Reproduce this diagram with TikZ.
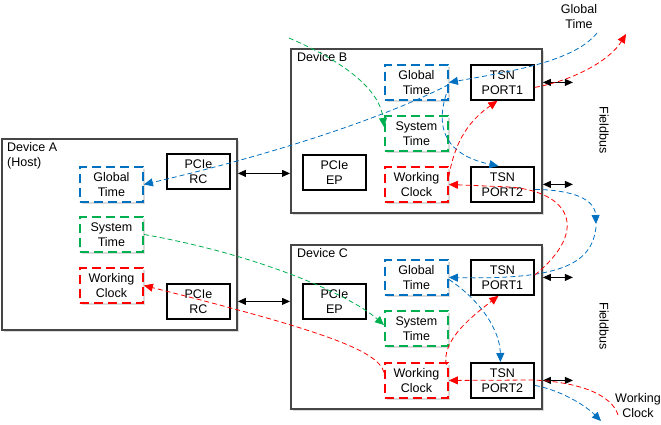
\documentclass[tikz,border=0pt]{standalone}
\usepackage{fontspec}
\setmainfont{Liberation Sans}
\usetikzlibrary{arrows.meta,shadows}

\definecolor{gtblue}{RGB}{0,112,192}
\definecolor{stgreen}{RGB}{0,176,80}
\definecolor{wcred}{RGB}{255,0,0}
\definecolor{devgray}{RGB}{70,70,70}

\tikzset{
  shade/.style={drop shadow={shadow xshift=2pt, shadow yshift=-2pt, fill=black!14, opacity=1}},
  device/.style={draw=devgray, line width=1.9pt, fill=white, shade, anchor=north west, inner sep=0pt},
  blk/.style={draw=black, line width=1.8pt, fill=white, anchor=north west, minimum width=63pt, minimum height=35pt, inner sep=0pt, align=center},
  clk/.style={blk, draw=#1, line width=1.9pt, dash pattern=on 9pt off 5pt, shade},
  link/.style={draw=#1, line width=0.8pt, dash pattern=on 5pt off 3pt, -{Triangle[length=9pt,width=8pt]}},
  bus/.style={draw=black, line width=0.9pt, {Triangle[length=8pt,width=7pt]}-{Triangle[length=8pt,width=7pt]}},
  lbl/.style={anchor=north west, inner sep=1pt, align=left}
}

\begin{document}
\begin{tikzpicture}[x=1pt, y=-1pt, font=\fontsize{12.5}{15}\selectfont]
\pgfmathsetmacro{\l}{30}

\useasboundingbox (0,0) rectangle (661,424);

\node[device, minimum width=235, minimum height=191] (devA) at (1,138) {};
\node[device, minimum width=251, minimum height=164] (devB) at (290,48) {};
\node[device, minimum width=251, minimum height=164] (devC) at (290,244) {};
\node[lbl] (labA) at (6,141) {Device A\\(Host)};
\node[lbl] (labB) at (296,51) {Device B};
\node[lbl] (labC) at (296,247) {Device C};

\node[clk=gtblue] (gtA) at (79,166) {Global\\Time};
\node[clk=stgreen] (stA) at (79,216) {System\\Time};
\node[clk=wcred] (wcA) at (79,267) {Working\\Clock};
\node[blk] (rcA1) at (166,153) {PCIe\\RC};
\node[blk] (rcA2) at (166,283) {PCIe\\RC};

\node[clk=gtblue] (gtB) at (384,64) {Global\\Time};
\node[clk=stgreen] (stB) at (384,115) {System\\Time};
\node[clk=wcred] (wcB) at (384,166) {Working\\Clock};
\node[blk] (p1B) at (470,64) {TSN\\PORT1};
\node[blk] (p2B) at (470,166) {TSN\\PORT2};
\node[blk] (epB) at (302,154) {PCIe\\EP};

\node[clk=gtblue] (gtC) at (384,259) {Global\\Time};
\node[clk=stgreen] (stC) at (384,310) {System\\Time};
\node[clk=wcred] (wcC) at (384,362) {Working\\Clock};
\node[blk] (p1C) at (470,259) {TSN\\PORT1};
\node[blk] (p2C) at (470,362) {TSN\\PORT2};
\node[blk] (epC) at (302,283) {PCIe\\EP};

\node[rotate=-90] (fbtB) at (604,130) {Fieldbus};
\node[rotate=-90] (fbtC) at (604,326) {Fieldbus};
\node[align=center] (gtText) at (579,17) {Global\\Time};
\node[align=center] (wcText) at (638,406) {Working\\Clock};

\coordinate (gtIn) at (597,33);
\coordinate (stIn) at (289,38);
\coordinate (wcOut) at (626,34);
\coordinate (wcIn) at (618,415);
\coordinate (fbB) at (596,224);
\coordinate (fbC) at (601,421);

\draw[bus] ([yshift=-2pt]rcA1.east -| devA.east) -- ([yshift=-2pt]rcA1.east -| devB.west);
\draw[bus] (rcA2.east -| devA.east) -- (rcA2.east -| devC.west);
\foreach \p in {p1B,p2B,p1C,p2C}
  \draw[bus] (\p.east -| devB.east) -- ++(\l,0);

\draw[link=gtblue] (gtIn) .. controls (575,60) and (520,70) .. (gtB.east);
\draw[link=gtblue] ([yshift=-2pt]gtB.east) .. controls (400,110) and (300,148) .. (gtA.east);
\draw[link=gtblue] ([yshift=-4pt]gtB.east) .. controls (428,140) and (460,158) .. ([xshift=-4pt]p2B.north);
\draw[link=gtblue] ([yshift=-5pt]p2B.east) .. controls (575,190) and (595,200) .. (fbB);
\draw[link=gtblue] ([yshift=-3pt]fbB) .. controls (592,262) and (565,280) .. (gtC.east);
\draw[link=gtblue] ([yshift=-2pt]gtC.east) .. controls (480,300) and (500,330) .. ([xshift=-2pt]p2C.north);
\draw[link=gtblue] ([yshift=-5pt]p2C.east) .. controls (560,390) and (585,405) .. (fbC);

\draw[link=stgreen] (stIn) .. controls (345,62) and (380,90) .. ([yshift=-12pt]stB.north west);
\draw[link=stgreen] (stA.east) .. controls (260,255) and (350,295) .. ([yshift=-15pt]stC.north west);

\draw[link=wcred] ([yshift=8pt]wcB.east) .. controls (455,140) and (470,120) .. ([xshift=-5pt]p1B.south);
\draw[link=wcred] ([yshift=-5pt]p1B.east) .. controls (575,80) and (610,60) .. (wcOut);
\draw[link=wcred] ([yshift=-16pt]p1C.north east) .. controls (590,230) and (570,192) .. (510,187) -- (wcB.east);
\draw[link=wcred] (wcIn) .. controls (612,395) and (580,382) .. (533,380) -- (wcC.east);
\draw[link=wcred] ([yshift=8pt]wcC.east) .. controls (435,345) and (470,318) .. ([xshift=-4pt]p1C.south);
\draw[link=wcred] ([yshift=8pt]wcC.west) .. controls (378,350) and (320,330) .. (wcA.east);
\end{tikzpicture}
\end{document}
